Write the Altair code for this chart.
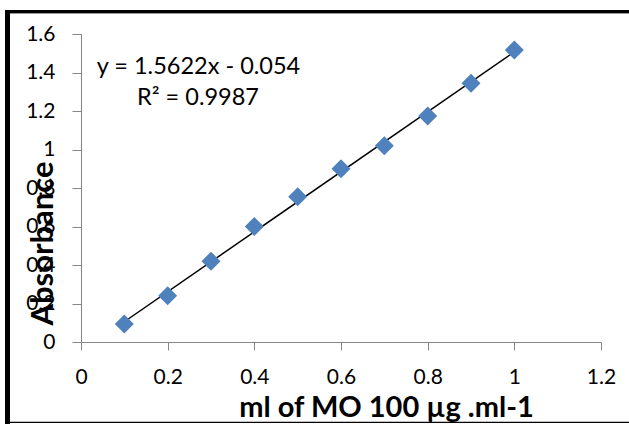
import altair as alt
import pandas as pd

x_vals = [0.1, 0.2, 0.3, 0.4, 0.5, 0.6, 0.7, 0.8, 0.9, 1.0]
absorbance = [0.094, 0.24, 0.42, 0.60, 0.755, 0.90, 1.02, 1.174, 1.344, 1.517]
x_ticks = [0, 0.2, 0.4, 0.6, 0.8, 1, 1.2]
y_ticks = [0, 0.2, 0.4, 0.6, 0.8, 1, 1.2, 1.4, 1.6]
eq_lines = ["y = 1.5622x - 0.054", "R² = 0.9987"]
x_title = "ml of MO 100 µg .ml-1"
y_title = "Absorbance"

df = pd.DataFrame({"x": x_vals, "y": absorbance})
FONT = "Lato"
AX = "#868686"

xs = alt.X("x:Q", scale=alt.Scale(domain=[0, 1.2], nice=False),
           axis=alt.Axis(values=x_ticks, format="~g", title=x_title, grid=False,
                         domainColor=AX, tickColor=AX, tickSize=8,
                         labelFont=FONT, labelFontSize=21, labelColor="black",
                         labelBaseline="middle", labelPadding=27,
                         labelFlush=False, labelOverlap=False,
                         titleFont=FONT, titleFontSize=29, titleFontWeight="bold",
                         titleColor="black", titleX=305, titleY=65,
                         titleBaseline="middle", titleAlign="center"))
ys = alt.Y("y:Q", scale=alt.Scale(domain=[0, 1.6], nice=False),
           axis=alt.Axis(values=y_ticks, format="~g", title=y_title, grid=False,
                         domainColor=AX, tickColor=AX, tickSize=9,
                         labelFont=FONT, labelFontSize=21, labelColor="black",
                         labelPadding=17, labelFlush=False, labelOverlap=False,
                         titleFont=FONT, titleFontSize=31, titleFontWeight="bold",
                         titleColor="black", titleX=-38, titleY=209,
                         titleBaseline="middle", titleAlign="center"))

points = alt.Chart(df).mark_point(shape="diamond", filled=True, size=360,
                                  color="#4F81BD", opacity=1).encode(x=xs, y=ys)
trend = alt.Chart(df).transform_regression("x", "y").mark_line(
    color="black", strokeWidth=1.5).encode(x=xs, y=ys)

eq_df = pd.DataFrame({"t": eq_lines, "i": [0, 1]})
eq1 = alt.Chart(eq_df).transform_filter("datum.i == 0").mark_text(
    font=FONT, fontSize=23.5, color="black", align="center", baseline="middle"
).encode(text="t:N", x=alt.value(117.5), y=alt.value(33))
eq2 = alt.Chart(eq_df).transform_filter("datum.i == 1").mark_text(
    font=FONT, fontSize=23.5, color="black", align="center", baseline="middle"
).encode(text="t:N", x=alt.value(117), y=alt.value(64))

frame_df = pd.DataFrame({"k": [0]})
left_b = alt.Chart(frame_df).mark_rule(color="black", strokeWidth=5).encode(
    x=alt.value(-73.5), y=alt.value(-24), y2=alt.value(390))
top_b = alt.Chart(frame_df).mark_rule(color="black", strokeWidth=3).encode(
    x=alt.value(-76), x2=alt.value(560), y=alt.value(-22.5))
top_g = alt.Chart(frame_df).mark_rule(color="#999999", strokeWidth=1).encode(
    x=alt.value(-71), x2=alt.value(560), y=alt.value(-20.5))
bot_b = alt.Chart(frame_df).mark_rule(color="black", strokeWidth=1.2).encode(
    x=alt.value(-76), x2=alt.value(560), y=alt.value(388.3))

chart = alt.layer(trend, points, eq1, eq2, left_b, top_b, top_g, bot_b).properties(
    width=520, height=308,
    autosize=alt.AutoSizeParams(type="none"),
    padding={"left": 81, "top": 34, "right": 28, "bottom": 82},
    background="white",
).configure_view(stroke=None)

chart.save("out.html", embed_options={"renderer": "svg", "actions": False})
